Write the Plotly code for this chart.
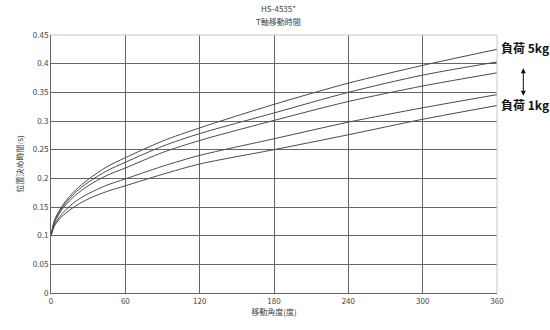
import plotly.graph_objects as go

angles = [0, 3, 10, 20, 30, 45, 60, 90, 120, 180, 240, 300, 360]
load_5kg = [0.100, 0.128, 0.155, 0.180, 0.198, 0.220, 0.236, 0.265, 0.288, 0.329, 0.366, 0.397, 0.425]
load_4kg = [0.100, 0.126, 0.152, 0.176, 0.193, 0.213, 0.228, 0.256, 0.278, 0.314, 0.350, 0.380, 0.403]
load_3kg = [0.100, 0.124, 0.149, 0.171, 0.187, 0.205, 0.218, 0.245, 0.266, 0.301, 0.334, 0.361, 0.384]
load_2kg = [0.100, 0.120, 0.141, 0.160, 0.173, 0.188, 0.199, 0.221, 0.240, 0.269, 0.298, 0.323, 0.346]
load_1kg = [0.100, 0.118, 0.136, 0.152, 0.164, 0.177, 0.187, 0.207, 0.225, 0.250, 0.276, 0.303, 0.327]
series = [load_5kg, load_4kg, load_3kg, load_2kg, load_1kg]

title_lines = ["HS-4535*", "T軸移動時間"]
x_title = "移動角度(度)"
y_title = "位置決め時間(s)"
label_top = "負荷 5kg"
label_bottom = "負荷 1kg"

JP = "Noto Sans CJK JP"

fig = go.Figure()
for s in series:
    fig.add_trace(go.Scatter(x=angles, y=s, mode="lines", line=dict(color="#4a4a4a", width=1, shape="spline", smoothing=0.8),
                             hoverinfo="skip", showlegend=False))

fig.update_layout(
    width=550, height=330,
    margin=dict(l=51, r=53, t=35, b=37),
    paper_bgcolor="white", plot_bgcolor="white",
    font=dict(family=JP, size=8, color="#444"),
    showlegend=False,
    xaxis=dict(range=[0, 360], tickmode="linear", tick0=0, dtick=60, showgrid=True,
               gridcolor="#666", gridwidth=1, showline=True, linecolor="#666", linewidth=1,
               mirror=False, ticks="", zeroline=False,
               title=dict(text=x_title, standoff=4, font=dict(family=JP, size=8, color="#444")),
               tickfont=dict(family=JP, size=8, color="#444")),
    yaxis=dict(range=[0, 0.45], tickmode="linear", tick0=0, dtick=0.05, showgrid=True,
               gridcolor="#666", gridwidth=1, showline=True, linecolor="#666", linewidth=1,
               ticks="", zeroline=False,
               title=dict(text=y_title, standoff=8, font=dict(family=JP, size=8, color="#444")),
               tickfont=dict(family=JP, size=8, color="#444")),
)

# title lines
fig.add_annotation(text=title_lines[0], xref="paper", yref="paper", x=0.509, y=1.103, xanchor="center", yanchor="middle",
                   showarrow=False, font=dict(family=JP, size=8, color="#444"))
fig.add_annotation(text=title_lines[1], xref="paper", yref="paper", x=0.509, y=1.052, xanchor="center", yanchor="middle",
                   showarrow=False, font=dict(family=JP, size=8, color="#444"))

# light top/right border
fig.add_shape(type="line", xref="paper", yref="paper", x0=0, x1=1, y0=1, y1=1, line=dict(color="#c8c8c8", width=1))
fig.add_shape(type="line", xref="paper", yref="paper", x0=1, x1=1, y0=0, y1=1, line=dict(color="#c8c8c8", width=1))

fig.add_annotation(text="<b>" + label_top + "</b>", xref="paper", yref="paper", x=1.004, y=0.951, xanchor="left", yanchor="middle",
                   showarrow=False, font=dict(family=JP, size=12, color="#111"))
fig.add_annotation(text="<b>" + label_bottom + "</b>", xref="paper", yref="paper", x=1.004, y=0.730, xanchor="left", yanchor="middle",
                   showarrow=False, font=dict(family=JP, size=12, color="#111"))
fig.add_annotation(text="", xref="paper", yref="paper", x=1.059, y=0.765, ax=0, ay=-29,
                   showarrow=True, arrowhead=2, arrowside="end+start", arrowsize=1, arrowwidth=1, arrowcolor="#111")

fig.write_html("out.html")
